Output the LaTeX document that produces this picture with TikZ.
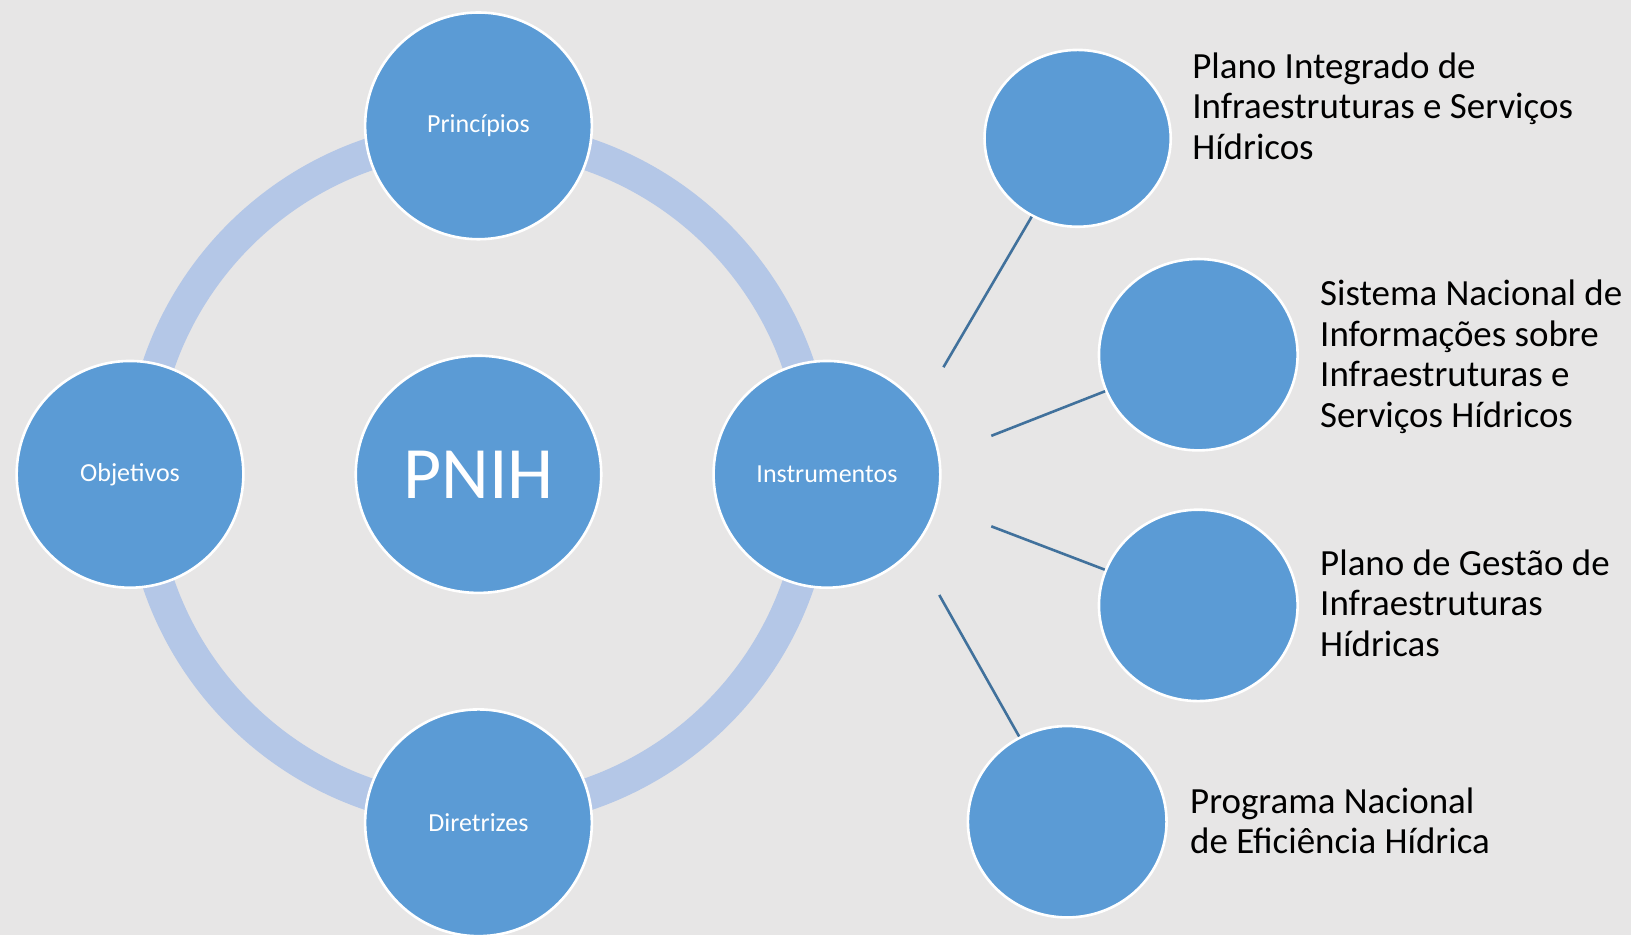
\documentclass[tikz,border=0pt]{standalone}
\usepackage{fontspec}
\setmainfont{Carlito}
\usetikzlibrary{shapes.geometric}
\definecolor{bgc}{HTML}{E7E6E6}
\definecolor{circc}{HTML}{5B9BD5}
\definecolor{ringc}{HTML}{B4C7E7}
\definecolor{connc}{HTML}{41719C}
\begin{document}
\begin{tikzpicture}[x=1pt,y=-1pt,
  bubble/.style={circle, fill=circc, draw=white, line width=2.5pt, minimum size=218pt, inner sep=0pt, text=white, font=\fontsize{25}{30}\selectfont},
  sat/.style={ellipse, fill=circc, draw=white, line width=2.5pt, inner sep=0pt},
  lbl/.style={anchor=base west, align=left, inner sep=0pt, font=\fontsize{35.5}{39}\selectfont, text=black},
  connline/.style={draw=connc, line width=2.5pt}
]
\useasboundingbox (0,0) rectangle (1568,899);
\clip (0,0) rectangle (1568,899);
\fill[bgc] (0,0) rectangle (1568,899);
% ring
\coordinate (ringc) at (460,456);
\draw[ringc, line width=31pt] (ringc) circle[radius=325];
% main circles
\node[sat, minimum width=236pt, minimum height=228pt, text=white, font=\fontsize{71}{80}\selectfont] (pnih) at (460,456) {PNIH};
\node[bubble] (princ) at (460,121) {Princípios};
\node[bubble] (obj) at (125,456) {Objetivos};
\node[bubble] (instr) at (795,456) {Instrumentos};
\node[bubble] (dir) at (460,791) {Diretrizes};
% satellites
\node[sat, minimum width=179pt, minimum height=170pt] (c1) at (1036,133) {};
\node[sat, minimum width=191pt, minimum height=184pt] (c2) at (1152,341) {};
\node[sat, minimum width=191pt, minimum height=184pt] (c3) at (1152,582) {};
\node[sat, minimum width=191pt, minimum height=184pt] (c4) at (1026,790) {};
% connectors
\coordinate (s1) at (907,353);
\coordinate (s2) at (953,419);
\coordinate (s3) at (953,506);
\coordinate (s4) at (903,572);
\draw[connline] (s1) -- (c1);
\draw[connline] (s2) -- (c2);
\draw[connline] (s3) -- (c3);
\draw[connline] (s4) -- (c4);
% labels (base anchor = baseline of last line)
\node[lbl] (l1) at (1146,153) {Plano Integrado de\\Infraestruturas e Serviços\\Hídricos};
\node[lbl] (l2) at (1269,411) {Sistema Nacional de\\Informações sobre\\Infraestruturas e\\Serviços Hídricos};
\node[lbl] (l3) at (1269,631) {Plano de Gestão de\\Infraestruturas\\Hídricas};
\node[lbl] (l4) at (1144,821) {Programa Nacional\\de Eficiência Hídrica};
\end{tikzpicture}
\end{document}
